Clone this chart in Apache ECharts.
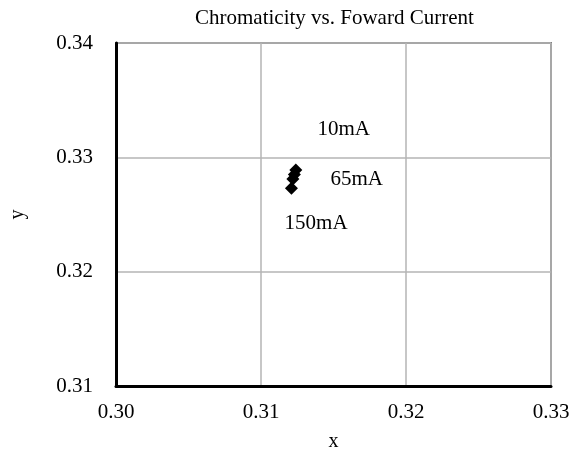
<!DOCTYPE html>
<html>
<head>
<meta charset="utf-8">
<script src="https://cdn.jsdelivr.net/npm/echarts@6/dist/echarts.min.js"></script>
<style>
  html, body { margin: 0; padding: 0; background: #fff; }
  #chart { width: 574px; height: 457px; }
</style>
</head>
<body>
<div id="chart"></div>
<script>
// chromaticity points (x, y)
const chromaX = [0.3124, 0.3123, 0.3122, 0.3121];
const chromaY = [0.3289, 0.3285, 0.3281, 0.3273];

// annotation texts and where they sit (data coords)
const currentLabels = ['10mA', '65mA', '150mA'];
const labelX = [0.3157, 0.3166, 0.3138];
const labelY = [0.3324, 0.3281, 0.3242];

const xTicks = [0.30, 0.31, 0.32, 0.33];
const yTicks = [0.31, 0.32, 0.33, 0.34];

const font = '"Liberation Serif", "DejaVu Serif", serif';

const chart = echarts.init(document.getElementById('chart'));

const option = {
  animation: false,
  backgroundColor: '#fff',
  title: {
    text: 'Chromaticity vs. Foward Current',
    left: 190,
    top: 3,
    textStyle: { fontFamily: font, fontSize: 21, fontWeight: 'normal', color: '#000' }
  },
  grid: {
    left: 110, right: 23, top: 43, bottom: 67,
    show: true,
    borderColor: '#808080',
    borderWidth: 2
  },
  xAxis: {
    type: 'value',
    min: xTicks[0],
    max: xTicks[xTicks.length - 1],
    interval: 0.01,
    name: 'x',
    nameLocation: 'middle',
    nameGap: 46,
    nameTextStyle: { fontFamily: font, fontSize: 20, color: '#000' },
    axisLine: { lineStyle: { color: '#000', width: 3 } },
    axisTick: { show: false },
    splitLine: { lineStyle: { color: '#b4b4b4', width: 1.5 } },
    axisLabel: {
      fontFamily: font, fontSize: 21, color: '#000', margin: 16,
      formatter: v => v.toFixed(2)
    }
  },
  yAxis: {
    type: 'value',
    min: yTicks[0],
    max: yTicks[yTicks.length - 1],
    interval: 0.01,
    name: 'y',
    nameLocation: 'middle',
    nameGap: 88,
    nameRotate: 90,
    nameTextStyle: { fontFamily: font, fontSize: 20, color: '#000' },
    axisLine: { lineStyle: { color: '#000', width: 3 } },
    axisTick: { show: false },
    splitLine: { lineStyle: { color: '#b4b4b4', width: 1.5 } },
    axisLabel: {
      fontFamily: font, fontSize: 21, color: '#000', margin: 23,
      formatter: v => v.toFixed(2)
    }
  },
  series: [
    {
      type: 'scatter',
      symbol: 'diamond',
      symbolSize: 13,
      itemStyle: { color: '#000', opacity: 1 },
      data: chromaX.map((x, i) => [x, chromaY[i]])
    },
    {
      type: 'scatter',
      symbolSize: 1,
      silent: true,
      itemStyle: { color: 'rgba(0,0,0,0)', opacity: 1 },
      data: currentLabels.map((t, i) => ({ value: [labelX[i], labelY[i]], name: t })),
      label: {
        show: true,
        position: 'inside',
        formatter: p => p.name,
        fontFamily: font,
        fontSize: 21,
        color: '#000',
        opacity: 1
      }
    }
  ]
};

chart.setOption(option);
</script>
</body>
</html>
